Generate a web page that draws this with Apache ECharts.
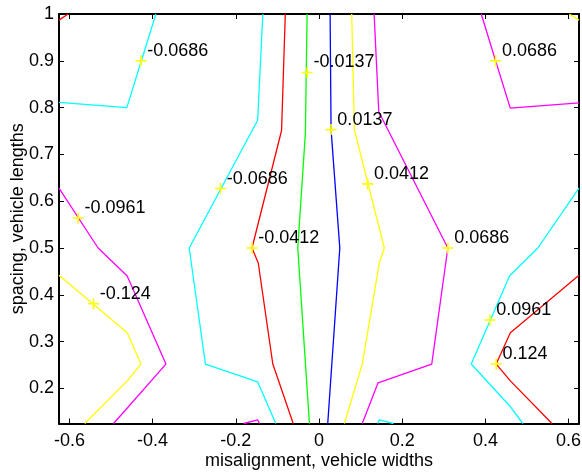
<!DOCTYPE html>
<html>
<head>
<meta charset="utf-8">
<script src="https://cdn.jsdelivr.net/npm/echarts@6/dist/echarts.min.js"></script>
<style>
html,body{margin:0;padding:0;background:#fff;}
#c{width:582px;height:476px;}
</style>
</head>
<body>
<div id="c"></div>
<script>
// Axis ticks
const xTicks = [-0.6, -0.4, -0.2, 0, 0.2, 0.4, 0.6];
const xTickLabels = ['-0.6', '-0.4', '-0.2', '0', '0.2', '0.4', '0.6'];
const yTicks = [0.2, 0.3, 0.4, 0.5, 0.6, 0.7, 0.8, 0.9, 1];
const yTickLabels = ['0.2', '0.3', '0.4', '0.5', '0.6', '0.7', '0.8', '0.9', '1'];

// Contour polylines [x, y]
const redTopLeft = [[-0.625, 0.987], [-0.603, 1]];
const cyanTopLeft = [[-0.625, 0.811], [-0.462, 0.800], [-0.392, 1]];
const magentaLeft = [[-0.625, 0.628], [-0.531, 0.5], [-0.461, 0.44], [-0.368, 0.252], [-0.464, 0.155], [-0.494, 0.125]];
const yellowLeft = [[-0.625, 0.442], [-0.461, 0.319], [-0.428, 0.252], [-0.461, 0.216], [-0.563, 0.125]];
const cyanMid = [[-0.135, 1], [-0.1475, 0.773], [-0.312, 0.5], [-0.273, 0.252], [-0.1475, 0.214], [-0.104, 0.125]];
const redMid = [[-0.081, 1], [-0.090, 0.751], [-0.161, 0.5], [-0.146, 0.468], [-0.111, 0.252], [-0.062, 0.125]];
const greenMid = [[-0.0286, 1], [-0.0327, 0.746], [-0.051, 0.5], [-0.023, 0.125]];
const blueMid = [[0.0267, 1], [0.029, 0.753], [0.05, 0.5], [0.021, 0.125]];
const yellowMid = [[0.0787, 1], [0.085, 0.753], [0.157, 0.5], [0.145, 0.468], [0.104, 0.252], [0.061, 0.125]];
const magentaMid = [[0.1325, 1], [0.1437, 0.791], [0.3097, 0.5], [0.271, 0.252], [0.142, 0.212], [0.104, 0.125]];
const magentaTopRight = [[0.390, 1], [0.4245, 0.9], [0.4598, 0.799], [0.625, 0.81]];
const yellowTopRight = [[0.602, 1], [0.625, 0.987]];
const cyanRight = [[0.625, 0.628], [0.526, 0.5], [0.458, 0.44], [0.366, 0.252], [0.458, 0.163], [0.490, 0.125]];
const redRight = [[0.625, 0.442], [0.46, 0.319], [0.426, 0.252], [0.46, 0.216], [0.560, 0.125]];
const magentaSmall = [[-0.181, 0.125], [-0.1475, 0.133], [-0.143, 0.125]];
const cyanSmall = [[0.141, 0.125], [0.145, 0.133], [0.179, 0.125]];

// Contour labels [x, y, text]
const contourLabels = [
  [-0.428, 0.9, '-0.0686'],
  [-0.579, 0.564, '-0.0961'],
  [-0.542, 0.381, '-0.124'],
  [-0.237, 0.627, '-0.0686'],
  [-0.161, 0.5, '-0.0412'],
  [-0.0286, 0.875, '-0.0137'],
  [0.029, 0.753, '0.0137'],
  [0.117, 0.637, '0.0412'],
  [0.3097, 0.5, '0.0686'],
  [0.4245, 0.9, '0.0686'],
  [0.411, 0.346, '0.0961'],
  [0.426, 0.252, '0.124']
];

const lines = [
  [redTopLeft, '#ff0000'],
  [cyanTopLeft, '#00ffff'],
  [magentaLeft, '#ff00ff'],
  [yellowLeft, '#ffff00'],
  [cyanMid, '#00ffff'],
  [redMid, '#ff0000'],
  [greenMid, '#00ff00'],
  [blueMid, '#0000ff'],
  [yellowMid, '#ffff00'],
  [magentaMid, '#ff00ff'],
  [magentaTopRight, '#ff00ff'],
  [yellowTopRight, '#ffff00'],
  [cyanRight, '#00ffff'],
  [redRight, '#ff0000'],
  [magentaSmall, '#ff00ff'],
  [cyanSmall, '#00ffff']
];

const FONT = "'Liberation Sans', Arial, Helvetica, sans-serif";
const chart = echarts.init(document.getElementById('c'), null, {renderer: 'canvas'});

function mkX(pos, showLabels) {
  return {
    type: 'value', position: pos, min: -0.625, max: 0.625,
    axisLine: {show: true, onZero: false, lineStyle: {color: '#000', width: 2}},
    axisTick: {show: true, inside: true, length: 5, customValues: xTicks, lineStyle: {color: '#000', width: 1}},
    axisLabel: showLabels ? {
      show: true, customValues: xTicks, margin: 9, fontSize: 18, color: '#000', fontFamily: FONT,
      formatter: v => { const i = xTicks.findIndex(t => Math.abs(t - v) < 1e-9); return i >= 0 ? xTickLabels[i] : ''; }
    } : {show: false},
    splitLine: {show: false},
    name: showLabels ? 'misalignment, vehicle widths' : '',
    nameLocation: 'middle', nameGap: 29, nameMoveOverlap: false,
    nameTextStyle: {fontSize: 18, color: '#000', fontFamily: FONT}
  };
}
function mkY(pos, showLabels) {
  return {
    type: 'value', position: pos, min: 0.125, max: 1,
    axisLine: {show: true, onZero: false, lineStyle: {color: '#000', width: 2}},
    axisTick: {show: true, inside: true, length: 5, customValues: yTicks, lineStyle: {color: '#000', width: 1}},
    axisLabel: showLabels ? {
      show: true, customValues: yTicks, margin: 5, fontSize: 18, color: '#000', fontFamily: FONT,
      formatter: v => { const i = yTicks.findIndex(t => Math.abs(t - v) < 1e-9); return i >= 0 ? yTickLabels[i] : ''; }
    } : {show: false},
    splitLine: {show: false},
    name: showLabels ? 'spacing, vehicle lengths' : '',
    nameLocation: 'middle', nameGap: 32, nameMoveOverlap: false,
    nameTextStyle: {fontSize: 18, color: '#000', fontFamily: FONT}
  };
}

const series = lines.map(([pts, col]) => ({
  type: 'line', data: pts, xAxisIndex: 0, yAxisIndex: 0,
  showSymbol: false, symbol: 'none', silent: true,
  lineStyle: {color: col, width: 1.3}, itemStyle: {color: col}
}));
series.push({
  type: 'scatter', xAxisIndex: 0, yAxisIndex: 0, silent: true,
  data: contourLabels.map(d => ({value: [d[0], d[1]], name: d[2]})),
  symbol: 'path://M0,5L10,5M5,0L5,10', symbolSize: 11,
  itemStyle: {color: 'rgba(0,0,0,0)', borderColor: '#ffff00', borderWidth: 1.6, opacity: 1},
  label: {
    show: true, position: 'right', distance: 0, offset: [0, -10],
    formatter: p => p.name, fontSize: 18, color: '#000', opacity: 1, fontFamily: FONT
  },
  z: 5
});

chart.setOption({
  animation: false,
  backgroundColor: '#fff',
  grid: {left: 59, right: 3, top: 14, bottom: 52.5, containLabel: false, outerBoundsMode: 'none'},
  xAxis: [mkX('bottom', true), mkX('top', false)],
  yAxis: [mkY('left', true), mkY('right', false)],
  series: series
});
</script>
</body>
</html>
